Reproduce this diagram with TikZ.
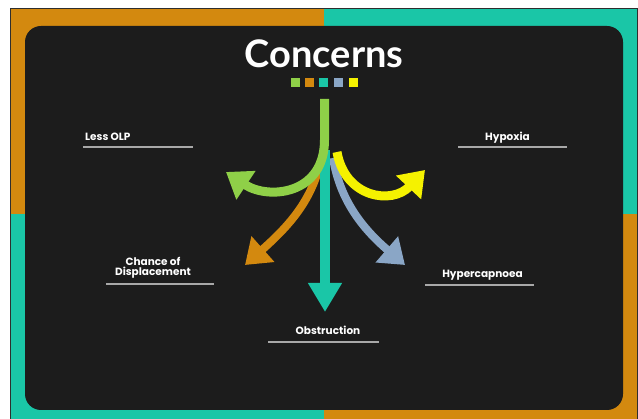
\documentclass[tikz,border=0pt]{standalone}
\usepackage{fontspec}
\usetikzlibrary{arrows.meta}
\newfontfamily\titlefont{Lato}
\newfontfamily\labelfont{Poppins}
\definecolor{cgreen}{HTML}{8FD048}
\definecolor{corange}{HTML}{D3890F}
\definecolor{cteal}{HTML}{1AC6A7}
\definecolor{cblue}{HTML}{8AA6C6}
\definecolor{cyellow}{HTML}{F5F200}
\definecolor{slate}{HTML}{1C1C1C}
\definecolor{rulegray}{HTML}{A8A8A8}
\definecolor{framegray}{HTML}{2E2E2E}
\tikzset{
  lbl/.style={text=white, font=\labelfont\bfseries\fontsize{10.5}{12}\selectfont, inner sep=0pt, align=center},
  uline/.style={draw=rulegray, line width=1.2pt},
  arr/.style={line width=#1, -{Triangle[width=33pt,length=24pt]}},
  arr/.default=9pt,
  sq/.style={minimum size=9pt, inner sep=0pt, draw=none}
}
\begin{document}
\begin{tikzpicture}[x=1pt,y=-1pt]
\useasboundingbox (0,0) rectangle (638,419);
\fill[white] (0,0) rectangle (638,419);
% quadrant frame
\fill[corange] (10,9) rectangle (324,214);
\fill[cteal] (324,9) rectangle (637,214);
\fill[cteal] (10,214) rectangle (324,419);
\fill[corange] (324,214) rectangle (637,419);
\draw[framegray, line width=1pt] (10,419) -- (10,9) -- (637,9) -- (637,419);
% dark panel
\fill[slate, rounded corners=16pt] (25,26) rectangle (623,410);
% title
\node[font=\titlefont\bfseries\fontsize{38}{40}\selectfont, text=white, inner sep=0pt, anchor=base] (title) at (324,68) {Concerns};
% squares
\node[sq, fill=cgreen]  (s1) at (295,83) {};
\node[sq, fill=corange] (s2) at (309,83) {};
\node[sq, fill=cteal]   (s3) at (323.5,83) {};
\node[sq, fill=cblue]   (s4) at (338,83) {};
\node[sq, fill=cyellow] (s5) at (353,83) {};
% arrows
\draw[arr=8pt, corange] (321,160) .. controls (312,200) and (290,225) .. (245,265);
\draw[arr=8pt, cblue] (333,158) .. controls (340,200) and (362,228) .. (405,265);
\draw[arr, cyellow] (337,152) .. controls (345,198) and (392,205) .. (425,170);
\draw[line width=10pt, cteal, -{Triangle[width=32pt,length=29pt]}] (325,150) -- (325,312);
\draw[arr, cgreen] (324.5,99) -- (324.5,140) .. controls (324.5,195) and (268,200) .. (226,172);
% labels
\node[lbl, anchor=base west] (olp) at (85,141) {Less OLP};
\node[lbl, anchor=base] (hypoxia) at (507.5,141) {Hypoxia};
\node[lbl] (chance) at (153,268) {Chance of\\[-2.5pt]Displacement};
\node[lbl, anchor=base] (obstr) at (328,335) {Obstruction};
\node[lbl, anchor=base] (hyperc) at (482.5,278) {Hypercapnoea};
% underlines
\draw[uline] (83,147) -- (193,147);
\draw[uline] (458,147) -- (567,147);
\draw[uline] (106,284) -- (214,284);
\draw[uline] (268,342) -- (379,342);
\draw[uline] (425,285) -- (534,285);
\end{tikzpicture}
\end{document}
